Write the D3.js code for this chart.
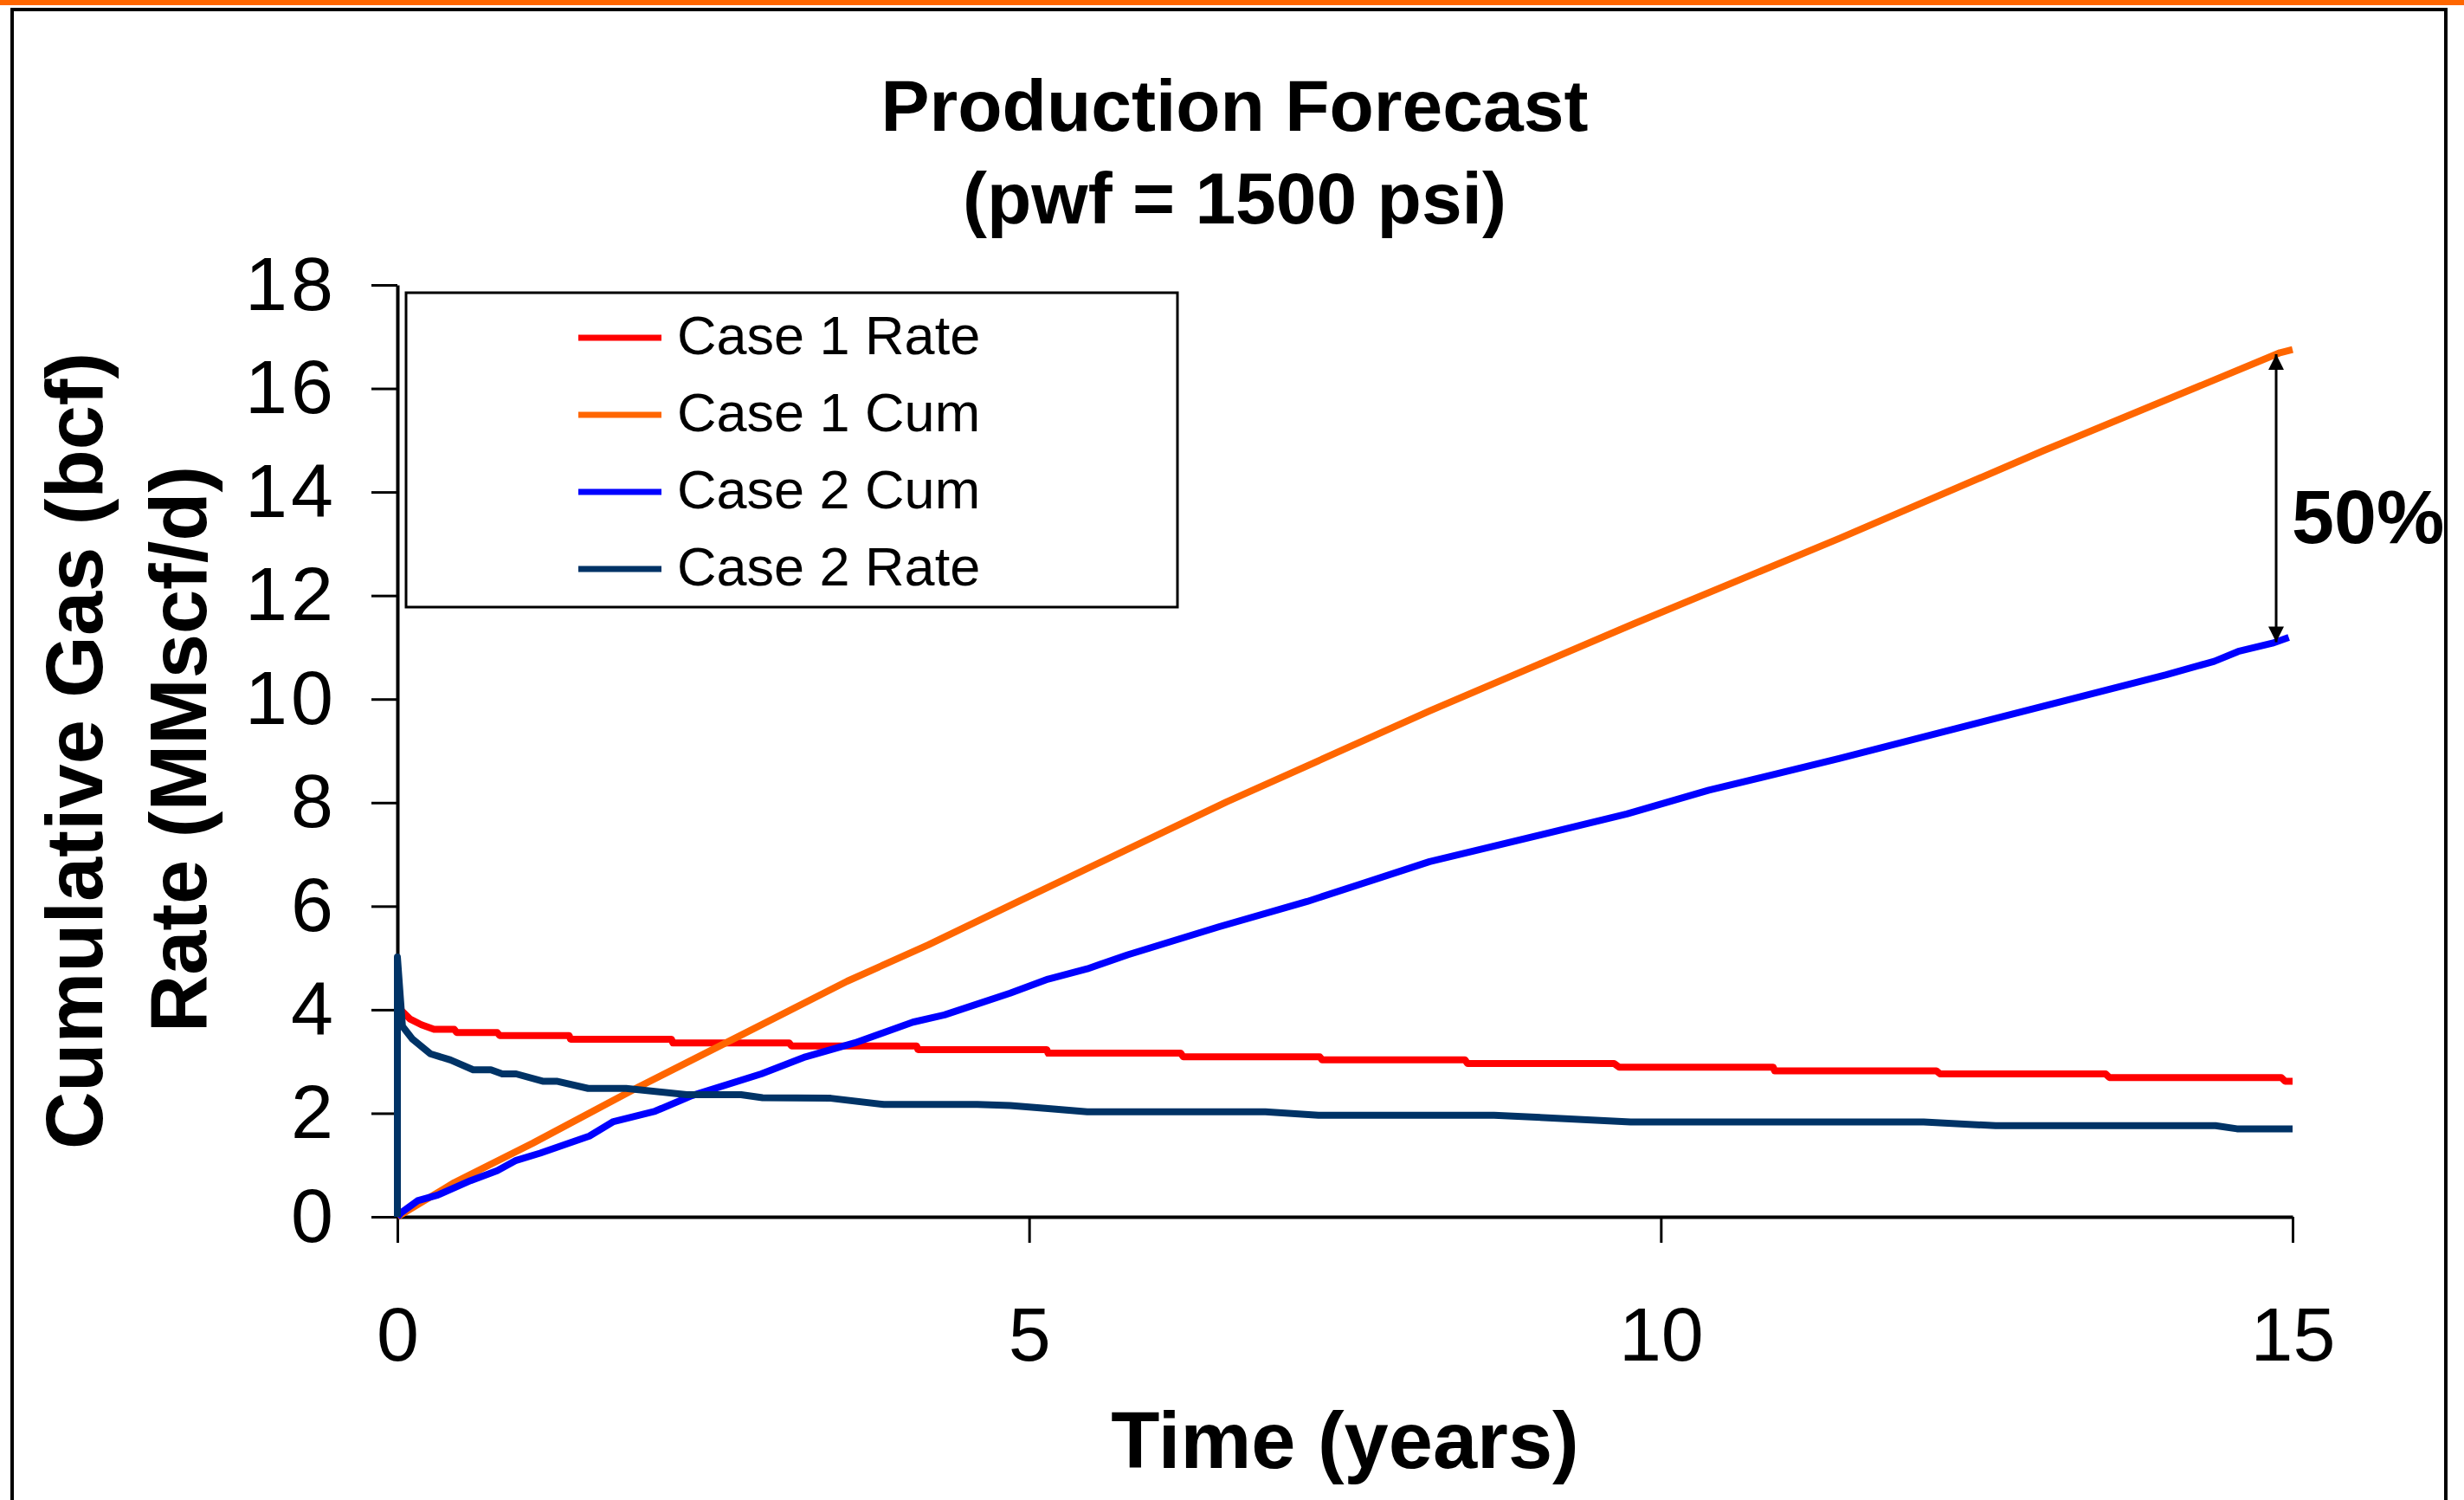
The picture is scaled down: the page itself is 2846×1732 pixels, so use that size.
<!DOCTYPE html>
<html>
<head>
<meta charset="utf-8">
<script src="https://cdn.jsdelivr.net/npm/d3@7"></script>
<style>
  html, body { margin: 0; padding: 0; background: #fff; }
  text { font-family: "Liberation Sans", Arial, sans-serif; }
</style>
</head>
<body>
<svg id="chart" width="2846" height="1732"></svg>
<script>
// values: [time (years), value]
const case1Rate = [
  [0, 0], [0, 4.3], [0.03, 3.99], [0.1, 3.82], [0.19, 3.71], [0.29, 3.62], [0.45, 3.62],
  [0.47, 3.56], [0.79, 3.56], [0.81, 3.5], [1.36, 3.5], [1.37, 3.43], [2.17, 3.43],
  [2.18, 3.36], [3.1, 3.36], [3.12, 3.3], [4.11, 3.3], [4.12, 3.23], [5.14, 3.23],
  [5.15, 3.16], [6.2, 3.16], [6.22, 3.09], [7.3, 3.09], [7.32, 3.03], [8.45, 3.03],
  [8.47, 2.96], [9.63, 2.96], [9.67, 2.89], [10.89, 2.89], [10.9, 2.82], [12.18, 2.82],
  [12.21, 2.76], [13.52, 2.76], [13.55, 2.69], [14.91, 2.69], [14.94, 2.62], [15, 2.62]
];
const case1Cum = [
  [0, 0], [0.45, 0.66], [1.07, 1.42], [1.91, 2.51], [2.6, 3.36], [3.56, 4.55], [4.2, 5.25],
  [4.94, 6.12], [6.56, 8.01], [8.17, 9.77], [9.79, 11.46], [11.41, 13.1], [13.03, 14.8],
  [14.9, 16.69], [15, 16.75]
];
const case2Cum = [
  [0, 0], [0.03, 0.08], [0.16, 0.31], [0.32, 0.42], [0.58, 0.7], [0.79, 0.89], [0.94, 1.09],
  [1.13, 1.23], [1.52, 1.56], [1.71, 1.84], [2.04, 2.04], [2.33, 2.34], [2.88, 2.76],
  [3.23, 3.09], [3.62, 3.36], [4.08, 3.76], [4.33, 3.9], [4.85, 4.32], [5.15, 4.59],
  [5.46, 4.79], [5.78, 5.06], [6.5, 5.6], [7.2, 6.09], [8.17, 6.86], [9.73, 7.78],
  [10.38, 8.24], [11.41, 8.85], [12.7, 9.66], [14.0, 10.47], [14.38, 10.73], [14.57, 10.92],
  [14.84, 11.08], [14.97, 11.19]
];
const case2Rate = [
  [0, 0], [0, 5.02], [0.04, 3.68], [0.12, 3.43], [0.26, 3.15], [0.42, 3.03], [0.6, 2.84],
  [0.74, 2.84], [0.83, 2.76], [0.94, 2.76], [1.15, 2.62], [1.26, 2.62], [1.51, 2.48],
  [1.81, 2.48], [2.29, 2.36], [2.72, 2.36], [2.89, 2.3], [3.43, 2.29], [3.85, 2.17],
  [4.59, 2.17], [4.85, 2.15], [5.15, 2.09], [5.46, 2.03], [6.87, 2.03], [7.29, 1.96],
  [8.68, 1.96], [9.21, 1.9], [9.76, 1.83], [12.08, 1.83], [12.65, 1.76], [14.39, 1.76],
  [14.56, 1.7], [15, 1.7]
];

const seriesNames = ["Case 1 Rate", "Case 1 Cum", "Case 2 Cum", "Case 2 Rate"];
const seriesData = [case1Rate, case1Cum, case2Cum, case2Rate];
const seriesColors = ["#ff0000", "#ff6600", "#0000ff", "#003366"];

const xTicks = [0, 5, 10, 15];
const yTicks = [0, 2, 4, 6, 8, 10, 12, 14, 16, 18];

// 50% gap marker between the two cum curves
const gapAt = 14.87;
const gapTop = 16.66;
const gapBottom = 11.1;
const gapLabel = "50%";

const svg = d3.select("#chart");

// frame
svg.append("rect").attr("x", 0).attr("y", 0).attr("width", 2846).attr("height", 1732).attr("fill", "#fff");
svg.append("rect").attr("x", 0).attr("y", 0).attr("width", 2846).attr("height", 6).attr("fill", "#ff6600");
svg.append("rect")
  .attr("x", 14).attr("y", 11)
  .attr("width", 2811).attr("height", 1800)
  .attr("fill", "none").attr("stroke", "#000").attr("stroke-width", 4);

const x = d3.scaleLinear().domain([0, 15]).range([459, 2648]);
const y = d3.scaleLinear().domain([0, 18]).range([1405, 329]);

// title
const title = svg.append("g").attr("font-weight", "bold").attr("font-size", 84).attr("text-anchor", "middle");
title.append("text").attr("x", 1426).attr("y", 151).text("Production Forecast");
title.append("text").attr("x", 1426).attr("y", 258).text("(pwf = 1500 psi)");

// axes
const yAxis = svg.append("g")
  .attr("transform", `translate(${x(0)},0)`)
  .call(d3.axisLeft(y).tickValues(yTicks).tickSize(30).tickSizeOuter(0).tickPadding(40));
const xAxis = svg.append("g")
  .attr("transform", `translate(0,${y(0)})`)
  .call(d3.axisBottom(x).tickValues(xTicks).tickSize(30).tickSizeOuter(0).tickPadding(74));

[yAxis, xAxis].forEach((g) => {
  g.attr("font-family", null).attr("font-size", 88);
  g.select(".domain").attr("stroke", "#000").attr("stroke-width", 4);
  g.selectAll(".tick line").attr("stroke", "#000").attr("stroke-width", 3);
  g.selectAll(".tick text").attr("fill", "#000");
});
yAxis.selectAll(".tick text").attr("letter-spacing", 4);

// axis titles
svg.append("text")
  .attr("transform", `translate(118,${(y(0) + y(18)) / 2}) rotate(-90)`)
  .attr("text-anchor", "middle").attr("font-weight", "bold").attr("font-size", 92)
  .text("Cumulative Gas (bcf)");
svg.append("text")
  .attr("transform", `translate(238,${(y(0) + y(18)) / 2 - 2}) rotate(-90)`)
  .attr("text-anchor", "middle").attr("font-weight", "bold").attr("font-size", 92)
  .text("Rate (MMscf/d)");
svg.append("text")
  .attr("x", (x(0) + x(15)) / 2).attr("y", 1695)
  .attr("text-anchor", "middle").attr("font-weight", "bold").attr("font-size", 92)
  .text("Time (years)");

// series
const line = d3.line().x((d) => x(d[0])).y((d) => y(d[1]));
svg.append("g")
  .selectAll("path")
  .data(seriesData)
  .enter()
  .append("path")
  .attr("d", line)
  .attr("fill", "none")
  .attr("stroke", (d, i) => seriesColors[i])
  .attr("stroke-width", 8)
  .attr("stroke-linejoin", "round");

// legend
const legend = svg.append("g");
legend.append("rect")
  .attr("x", 469).attr("y", 338).attr("width", 891).attr("height", 363)
  .attr("fill", "#fff").attr("stroke", "#000").attr("stroke-width", 3);
const rowY = (i) => 390 + i * 89;
const item = legend.selectAll("g.item")
  .data(seriesNames)
  .enter()
  .append("g")
  .attr("class", "item");
item.append("line")
  .attr("x1", 668).attr("x2", 764)
  .attr("y1", (d, i) => rowY(i)).attr("y2", (d, i) => rowY(i))
  .attr("stroke", (d, i) => seriesColors[i])
  .attr("stroke-width", 7);
item.append("text")
  .attr("x", 782).attr("y", (d, i) => rowY(i) + 19)
  .attr("font-size", 63)
  .text((d) => d);

// gap arrow + label
const defs = svg.append("defs");
defs.append("marker")
  .attr("id", "arrowHead")
  .attr("viewBox", "0 0 10 10")
  .attr("refX", 10).attr("refY", 5)
  .attr("markerWidth", 6).attr("markerHeight", 6)
  .attr("markerUnits", "strokeWidth")
  .attr("orient", "auto-start-reverse")
  .append("path")
  .attr("d", "M0,0 L10,5 L0,10 Z")
  .attr("fill", "#000");
svg.append("line")
  .attr("x1", x(gapAt)).attr("x2", x(gapAt))
  .attr("y1", y(gapTop)).attr("y2", y(gapBottom))
  .attr("stroke", "#000").attr("stroke-width", 3)
  .attr("marker-start", "url(#arrowHead)")
  .attr("marker-end", "url(#arrowHead)");
svg.append("text")
  .attr("x", 2647).attr("y", 627)
  .attr("font-weight", "bold").attr("font-size", 88)
  .text(gapLabel);
</script>
</body>
</html>
